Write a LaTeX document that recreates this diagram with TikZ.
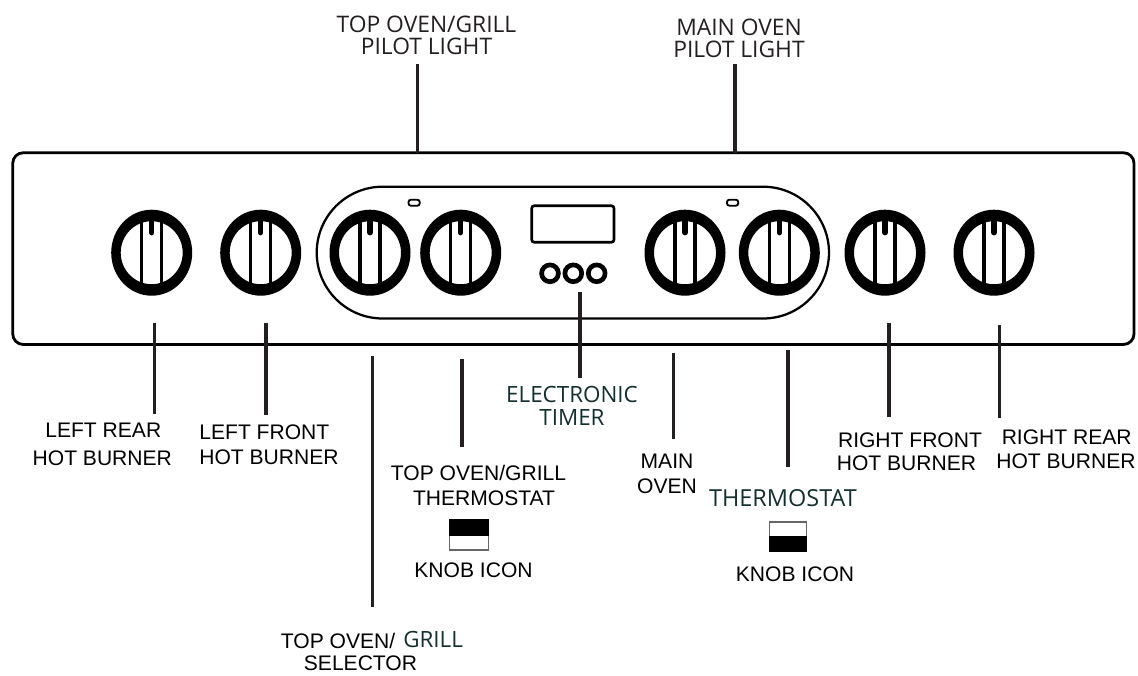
\documentclass[tikz,border=0pt]{standalone}
\usepackage{fontspec}
\setmainfont{Liberation Sans}
\newfontfamily\opensans{Open Sans}
\definecolor{darkgreen}{HTML}{12302E}
\definecolor{inkgrey}{HTML}{231F20}
\tikzset{
  x=0.75pt,y=-0.75pt,
  outline/.style={draw=black,line width=2.1pt},
  ovalline/.style={draw=black,line width=1.7pt},
  leader/.style={draw=inkgrey,line width=2.4pt},
  lbl/.style={align=center,inner sep=0pt,font=\fontsize{15.8}{18.5}\selectfont,text=black},
  toplbl/.style={align=center,inner sep=0pt,font=\opensans\fontsize{17.1}{16.5}\selectfont,text=inkgrey},
  grn/.style={align=center,inner sep=0pt,font=\opensans\fontsize{16.8}{17.2}\selectfont,text=darkgreen},
  pilot/.style={draw=black,line width=1.4pt,rounded corners=1.8pt},
  icon/.style={draw=black!60,line width=1.2pt},
  pics/knob/.style={code={
    \fill[even odd rule] (0,0) ellipse [x radius=40.5,y radius=43] (0,0) ellipse [x radius=31,y radius=31.5];
    \draw[line width=2.4pt] (-10,-36) -- (-10,33);
    \draw[line width=2.4pt] (10,-36) -- (10,33);
    \draw[line width=4pt,line cap=round] (0,-36) -- (0,-20);
  }}
}
\begin{document}
\begin{tikzpicture}
\useasboundingbox (0,0) rectangle (1138,675);
\draw[outline,rounded corners=8pt] (12.7,152.7) rectangle (1134,344.5);
\draw[ovalline,rounded corners=49.5pt] (316.7,186.7) rectangle (829,318.5);
\draw[line width=2pt,rounded corners=2pt] (531.7,205.7) rectangle (614,242.3);
\foreach \k/\cx in {a/151.7,b/260.7,c/370,d/460.7,e/685,f/779.3,g/885,h/994}
  \pic (\k) at (\cx,252.7) {knob};
\foreach \cx in {550,573.3,596.7}
  \draw[line width=3.5pt] (\cx,273.3) circle (8.4);
\draw[pilot] (408.5,199.7) rectangle (419.7,205.7);
\draw[pilot] (727,199.7) rectangle (738.2,205.7);
% leader ends
\coordinate (t1a) at (417.3,64); \coordinate (t1b) at (417.3,153);
\coordinate (t2a) at (735,64); \coordinate (t2b) at (735,153);
\coordinate (b1a) at (154.5,322.7); \coordinate (b1b) at (154.5,414);
\coordinate (b2a) at (266,322.7); \coordinate (b2b) at (266,415);
\coordinate (b3a) at (372.5,356); \coordinate (b3b) at (372.5,606.7);
\coordinate (b4a) at (462,359); \coordinate (b4b) at (462,447);
\coordinate (b5a) at (580,291.7); \coordinate (b5b) at (580,378);
\coordinate (b6a) at (673.7,352.7); \coordinate (b6b) at (673.7,439.3);
\coordinate (b7a) at (788,350); \coordinate (b7b) at (788,467);
\coordinate (b8a) at (889,323); \coordinate (b8b) at (889,417);
\coordinate (b9a) at (999.3,325); \coordinate (b9b) at (999.3,418);
\foreach \p in {t1,t2,b1,b2,b3,b4,b5,b6,b7,b8,b9}
  \draw[leader] (\p a) -- (\p b);
% labels
\node[toplbl] (n1) at (426.5,35) {TOP OVEN/GRILL\\PILOT LIGHT};
\node[toplbl] (n2) at (739,38) {MAIN OVEN\\PILOT LIGHT};
\node[lbl] (n3a) at (103.3,430) {LEFT REAR};
\node[lbl] (n3b) at (102.3,458) {HOT BURNER};
\node[lbl,align=left] (n4) at (269,445) {LEFT FRONT\\HOT BURNER};
\node[lbl] (n5a) at (478.5,472.7) {TOP OVEN/GRILL};
\node[lbl] (n5b) at (484,498) {THERMOSTAT};
\node[lbl] (n6) at (473.5,570.7) {KNOB ICON};
\node[lbl] (n7) at (667,474) {MAIN\\OVEN};
\node[grn,font=\opensans\fontsize{17.6}{17.2}\selectfont] (n8) at (783,497.7) {THERMOSTAT};
\node[lbl] (n9) at (795,574) {KNOB ICON};
\node[grn] (n10) at (572,405.5) {ELECTRONIC\\TIMER};
\node[lbl] (n11a) at (910,440) {RIGHT FRONT};
\node[lbl] (n11b) at (906.5,463) {HOT BURNER};
\node[lbl] (n12a) at (1066.7,437) {RIGHT REAR};
\node[lbl] (n12b) at (1066,461.7) {HOT BURNER};
\node[lbl,anchor=west] (n13) at (280.7,640.5) {TOP OVEN/};
\node[grn,anchor=west] (n14) at (403,639.5) {GRILL};
\node[lbl] (n15) at (360.5,663) {SELECTOR};
% icons
\draw[icon] (449.5,520) rectangle (488.5,550);
\fill (449,519) rectangle (489,536);
\draw[icon] (769.5,522) rectangle (806.5,551);
\fill (769,536) rectangle (807,552);
\end{tikzpicture}
\end{document}
